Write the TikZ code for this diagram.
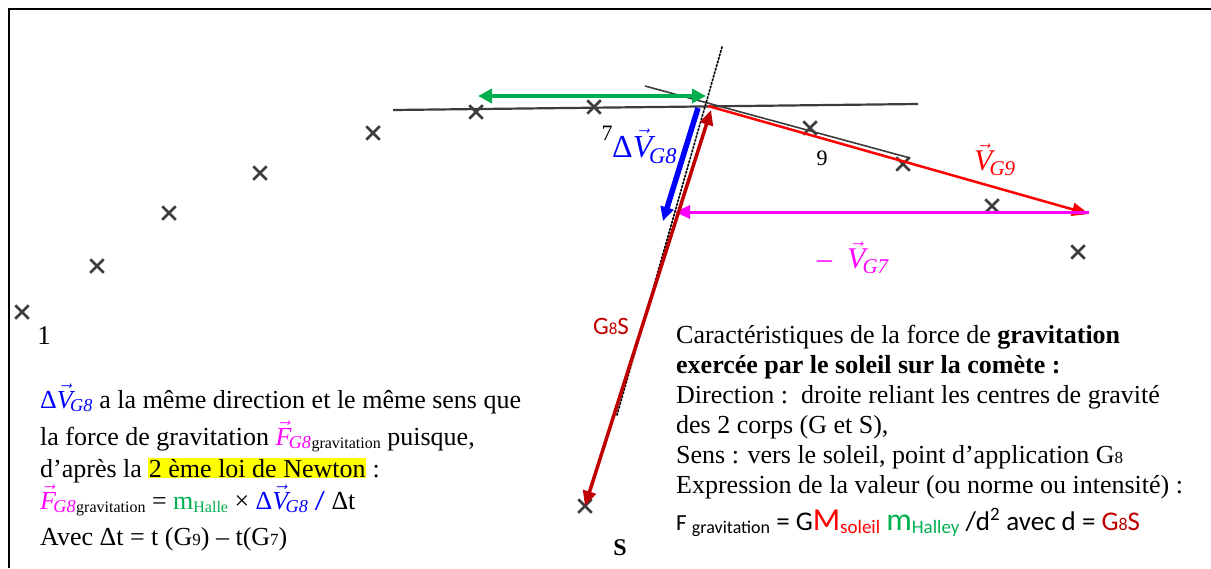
\documentclass[tikz,border=0pt]{standalone}
\usepackage{fontspec}
\setmainfont{Liberation Serif}
\newfontfamily\calfont{Carlito}
\usetikzlibrary{arrows.meta,shapes.misc}
\definecolor{cgreen}{RGB}{0,176,80}
\definecolor{cblue}{RGB}{0,0,255}
\definecolor{cred}{RGB}{255,0,0}
\definecolor{cmag}{RGB}{255,0,255}
\definecolor{cdred}{RGB}{192,0,0}
\definecolor{cgray}{RGB}{60,60,60}
\definecolor{cyell}{RGB}{255,255,0}
\newcommand{\fs}[1]{\fontsize{#1}{#1}\selectfont}
\newcommand{\lowsub}[1]{\raisebox{-3pt}{\fs{16}#1}}
\newcommand{\myvec}[2]{$\vec{\mbox{\itshape #1}}$\kern-0.1em\textsubscript{\itshape #2}}
\tikzset{
  crossmark/.style={cross out,draw=cgray,line width=2.5pt,minimum size=11pt,inner sep=0pt},
  scanline/.style={draw=cgray,line width=2.2pt},
  txt/.style={anchor=base west,inner sep=0pt,font=\fs{26}},
}
\begin{document}
\begin{tikzpicture}[x=1pt,y=-1pt]
\useasboundingbox (0,0) rectangle (1211,568);
% frame
\draw[line width=2.5pt] (9,568) -- (9,9) -- (1211,9);
% trajectory points
\node[crossmark] (c1) at (22,312) {};
\node[crossmark] (c2) at (97,266) {};
\node[crossmark] (c3) at (169,213) {};
\node[crossmark] (c4) at (260,173) {};
\node[crossmark] (c5) at (373,133) {};
\node[crossmark] (c6) at (476,112) {};
\node[crossmark] (c7) at (594,107) {};
\node[crossmark] (c9) at (810,128) {};
\node[crossmark] (c10) at (903,164) {};
\node[crossmark] (c11) at (992,206) {};
\node[crossmark] (c12) at (1078,252) {};
\node[crossmark] (sun) at (585,506) {};
\node[anchor=base,inner sep=0pt,font=\fs{27}] (n1) at (44,344) {1};
\node[anchor=base,inner sep=0pt,font=\fs{22}] (n7) at (607,140) {7};
\node[anchor=base,inner sep=0pt,font=\fs{22}] (n9) at (822,165) {9};
\node[anchor=base,inner sep=0pt,font=\bfseries\fs{24}] (nS) at (620,555) {S};
% scan lines
\coordinate (L1a) at (393,110);
\coordinate (L1b) at (918,104);
\coordinate (L2a) at (645,86);
\coordinate (L2b) at (910,158);
\draw[scanline] (L1a) -- (L1b);
\draw[scanline,line width=1.6pt] (L2a) -- (L2b);
\coordinate (D1) at (722,47);
\coordinate (D2) at (617,415);
\draw[line width=1.7pt,dotted,line cap=round] (D1) -- (D2);
% vectors
\coordinate (gA) at (478,96);
\coordinate (gB) at (706,96);
\draw[cgreen,line width=4pt,{Triangle[length=14pt,width=14pt]}-{Triangle[length=14pt,width=14pt]}] (gA) -- (gB);
\coordinate (G8) at (708,106);
\coordinate (bA) at (698,108);
\coordinate (bB) at (663,221);
\draw[cblue,line width=5.5pt,-{Triangle[length=14pt,width=13pt]}] (bA) -- (bB);
\coordinate (V9) at (1089,214);
\draw[cred,line width=2.5pt,-{Triangle[length=17pt,width=13pt]}] (G8) -- (V9);
\coordinate (mA) at (1089,212);
\coordinate (mB) at (675,212);
\draw[cmag,line width=3pt,-{Triangle[length=15pt,width=13pt]}] (mA) -- (mB);
\coordinate (rA) at (711,110);
\draw[cdred,line width=3.5pt,{Triangle[length=15pt,width=13pt]}-{Triangle[length=15pt,width=13pt]}] (rA) -- (sun.center);
% vector labels
\node[anchor=base west,inner sep=0pt,text=cblue,font=\fs{32}] (lblDV) at (612,157) {Δ\myvec{V}{G8}};
\node[anchor=base west,inner sep=0pt,text=cred,font=\fs{30}] (lblV9) at (974,170) {\myvec{V}{G9}};
\node[anchor=base west,inner sep=0pt,text=cmag,font=\fs{30}] (lblV7) at (817,268) {–\ \ \myvec{V}{G7}};
\node[anchor=base,inner sep=0pt,text=cdred,font=\calfont\fs{25}] (lblGS) at (611,334) {G{\fs{17}8}S};
% left text block
\node[txt] (l1) at (40,408) {\textcolor{cblue}{Δ\myvec{V}{G8}} a la même direction et le même sens que};
\node[txt] (l2) at (40,445) {la force de gravitation \textcolor{cmag}{\myvec{F}{G8}}\lowsub{gravitation} puisque,};
\node[txt] (l3) at (40,477) {d’après la {\setlength\fboxsep{0.5pt}\colorbox{cyell}{2 ème loi de Newton}} :};
\node[txt] (l4) at (40,509) {\textcolor{cmag}{\myvec{F}{G8}}\lowsub{gravitation} = \textcolor{cgreen}{m\lowsub{Halle}} × \textcolor{cblue}{Δ\myvec{V}{G8} {\calfont /}} Δt};
\node[txt] (l5) at (40,545) {Avec Δt = t (G{\fs{17}9}) – t(G{\fs{17}7})};
% right text block
\node[txt] (r1) at (676,343) {Caractéristiques de la force de \textbf{gravitation}};
\node[txt] (r2) at (676,373) {\textbf{exercée par le soleil sur la comète :}};
\node[txt] (r3) at (676,403) {Direction :\ \ droite reliant les centres de gravité};
\node[txt] (r4) at (676,433) {des 2 corps (G et S),};
\node[txt] (r5) at (676,463) {Sens : vers le soleil, point d’application G{\fs{17}8}};
\node[txt] (r6) at (676,493) {Expression de la valeur (ou norme ou intensité) :};
\node[txt,font=\calfont\fs{27}] (r7) at (676,530) {{\fs{23}F \raisebox{-3pt}{\fs{18}gravitation}} = G\textcolor{cred}{{\fs{32}M}\raisebox{-3pt}{\fs{19}soleil}} \textcolor{cgreen}{{\fs{32}m}\raisebox{-3pt}{\fs{19}Halley}} /d\textsuperscript{2} avec d = \textcolor{cdred}{G{\fs{18}8}S}};
\end{tikzpicture}
\end{document}
